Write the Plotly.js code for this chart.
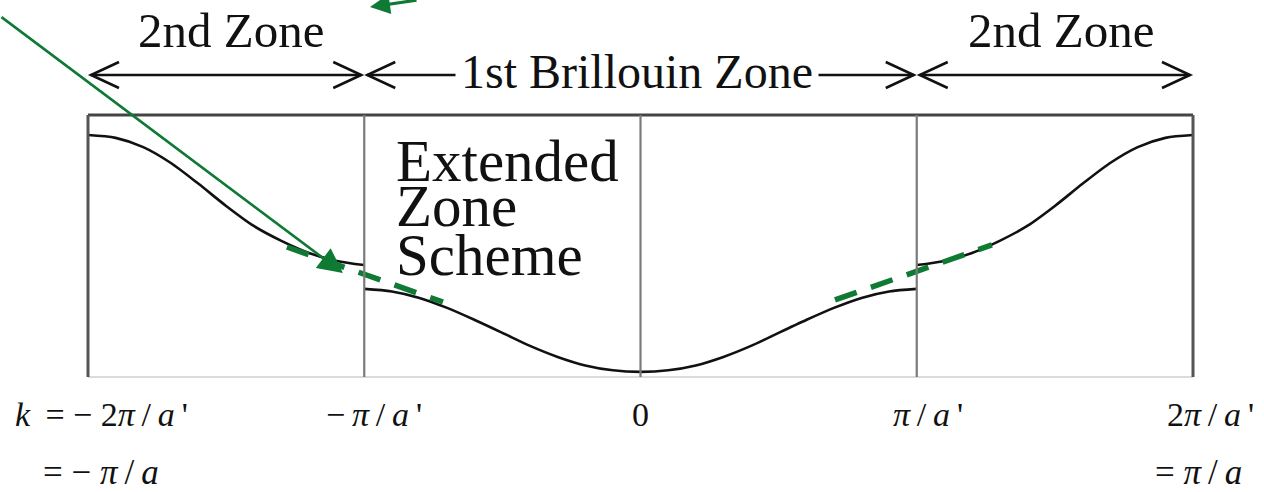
<!DOCTYPE html>
<html>
<head>
<meta charset="utf-8">
<script src="https://cdn.plot.ly/plotly-3.0.1.min.js"></script>
<style>html,body{margin:0;padding:0;background:#fff;}</style>
</head>
<body>
<div id="chart" style="width:1264px;height:492px"></div>
<script>
// Wavevector k in units of pi/a'; energy in arbitrary units (0 = band bottom, 1 = frame top)
const kLowerBand = [-1.0, -0.9, -0.8, -0.7, -0.6, -0.5, -0.4, -0.3, -0.2, -0.1, 0.0,
                    0.1, 0.2, 0.3, 0.4, 0.5, 0.6, 0.7, 0.8, 0.9, 1.0];
const eLowerBand = [0.323, 0.313, 0.288, 0.249, 0.202, 0.152, 0.101, 0.058, 0.025, 0.006, 0.0,
                    0.006, 0.025, 0.058, 0.101, 0.152, 0.202, 0.249, 0.288, 0.313, 0.323];

const kUpperLeft  = [-2.0, -1.9, -1.8, -1.7, -1.6, -1.5, -1.4, -1.3, -1.2, -1.1, -1.0];
const eUpperLeft  = [0.922, 0.911, 0.875, 0.813, 0.732, 0.646, 0.568, 0.510, 0.463, 0.432, 0.416];
const kUpperRight = [1.0, 1.1, 1.2, 1.3, 1.4, 1.5, 1.6, 1.7, 1.8, 1.9, 2.0];
const eUpperRight = [0.416, 0.432, 0.463, 0.510, 0.568, 0.646, 0.732, 0.813, 0.875, 0.911, 0.922];

// Straight free-electron-like continuation across the gap
const kDashLeft  = [-1.28, -0.715];
const eDashLeft  = [0.486, 0.272];
const kDashRight = [0.704, 1.272];
const eDashRight = [0.280, 0.494];

// Zone boundaries and labels
const zoneEdges = [-2, -1, 1, 2];
const dividerK = [-1, 0, 1];
const zoneNames = ['2nd Zone', '1st Brillouin Zone', '2nd Zone'];
const extendedLines = ['Extended', 'Zone', 'Scheme'];

const kRange = [-2, 2];
const eRange = [-0.02, 1];

// plot box geometry (pixels)
const W = 1264, H = 492;
const M = {l: 88, r: 71, t: 115, b: 115};
const plotW = W - M.l - M.r, plotH = H - M.t - M.b;
const px = x => (x - M.l) / plotW;          // pixel column -> paper x
const py = y => (H - M.b - y) / plotH;      // pixel row -> paper y
const kToPaper = k => (k - kRange[0]) / (kRange[1] - kRange[0]);

const BLACK = '#111111';
const GREEN = '#0e7a34';
const SERIF = 'Liberation Serif, Times New Roman, serif';

const bandLine = {color: BLACK, width: 2.6, shape: 'spline', smoothing: 0.8};
const dashLine = {color: GREEN, width: 5.5, dash: '23px,15px'};
const traces = [
  {x: kUpperLeft, y: eUpperLeft, mode: 'lines', line: bandLine, hoverinfo: 'skip'},
  {x: kLowerBand, y: eLowerBand, mode: 'lines', line: bandLine, hoverinfo: 'skip'},
  {x: kUpperRight, y: eUpperRight, mode: 'lines', line: bandLine, hoverinfo: 'skip'},
  {x: kDashLeft, y: eDashLeft, mode: 'lines', line: dashLine, hoverinfo: 'skip'},
  {x: kDashRight, y: eDashRight, mode: 'lines', line: dashLine, hoverinfo: 'skip'}
];

// frame and zone dividers
const shapes = [
  {type: 'line', xref: 'paper', yref: 'paper', x0: 0, x1: 1, y0: 1, y1: 1, line: {color: '#444', width: 3}},
  {type: 'line', xref: 'paper', yref: 'paper', x0: 0, x1: 1, y0: 0, y1: 0, line: {color: '#cfcfcf', width: 1.5}},
  {type: 'line', xref: 'paper', yref: 'paper', x0: 0, x1: 0, y0: 0, y1: 1, line: {color: '#555', width: 3}},
  {type: 'line', xref: 'paper', yref: 'paper', x0: 1, x1: 1, y0: 0, y1: 1, line: {color: '#555', width: 3}}
];
dividerK.forEach(k => shapes.push({
  type: 'line', xref: 'x', yref: 'paper', x0: k, x1: k, y0: 0, y1: 1,
  line: {color: '#7a7a7a', width: 2.2}
}));

// double-headed zone arrows above the frame
const arrowRow = py(75);
const tipGap = 3 / plotW;
for (let i = 0; i < zoneEdges.length - 1; i++) {
  const a = kToPaper(zoneEdges[i]) + tipGap;
  const b = kToPaper(zoneEdges[i + 1]) - tipGap;
  shapes.push({type: 'line', xref: 'paper', yref: 'paper', x0: a, x1: b, y0: arrowRow, y1: arrowRow,
               line: {color: BLACK, width: 2.6}});
  shapes.push({type: 'path', xref: 'paper', yref: 'paper', xsizemode: 'pixel', ysizemode: 'pixel',
               xanchor: a, yanchor: arrowRow, path: 'M 28,13 L 0,0 L 28,-13',
               fillcolor: 'rgba(0,0,0,0)', line: {color: BLACK, width: 2.6}});
  shapes.push({type: 'path', xref: 'paper', yref: 'paper', xsizemode: 'pixel', ysizemode: 'pixel',
               xanchor: b, yanchor: arrowRow, path: 'M -28,13 L 0,0 L -28,-13',
               fillcolor: 'rgba(0,0,0,0)', line: {color: BLACK, width: 2.6}});
}

const txt = (text, x, y, size, xanchor, extra) => Object.assign({
  text: text, x: x, y: y, xref: 'paper', yref: 'paper', showarrow: false,
  xanchor: xanchor || 'center', yanchor: 'middle',
  font: {family: SERIF, size: size, color: BLACK}
}, extra || {});

const S = ' ', T = '\u2009', MINUS = '\u2212', PI = '<i>\u03c0</i>', A = '<i>a</i>';
const tight = {borderpad: 0};

const annotations = [
  txt(zoneNames[0], px(231), py(31), 49),
  txt(zoneNames[1], px(637), py(72), 48, 'center', {bgcolor: '#ffffff', borderpad: 5}),
  txt(zoneNames[2], px(1061), py(31), 49),
  txt(extendedLines[0], px(395), py(161), 59, 'left', tight),
  txt(extendedLines[1], px(395), py(206), 59, 'left', tight),
  txt(extendedLines[2], px(395), py(255), 59, 'left', tight),
  // k-axis labels
  txt('<i>k</i>' + S + T + '=' + S + MINUS + S + '2' + PI + T + '/' + T + A + T + "'", px(14), py(414), 34, 'left', tight),
  txt(MINUS + T + PI + T + '/' + T + A + T + "'", px(325), py(414), 34, 'left', tight),
  txt('0', kToPaper(0), py(414), 34, 'center', tight),
  txt(PI + T + '/' + T + A + T + "'", px(892), py(414), 34, 'left', tight),
  txt('2' + PI + T + '/' + T + A + T + "'", px(1166), py(414), 34, 'left', tight),
  txt('=' + S + MINUS + S + PI + T + '/' + T + A, px(42), py(472), 35, 'left', tight),
  txt('=' + S + PI + T + '/' + T + A, px(1154), py(472), 35, 'left', tight),
  // green pointers
  {text: '', x: -1.077, y: 0.385, xref: 'x', yref: 'y', showarrow: true,
   ax: -343, ay: -257, arrowcolor: GREEN, arrowwidth: 2.6, arrowhead: 2, arrowsize: 1.9, standoff: 0},
  {text: '', x: px(370), y: py(7), xref: 'paper', yref: 'paper', showarrow: true,
   ax: 48, ay: -11, arrowcolor: GREEN, arrowwidth: 3.2, arrowhead: 2, arrowsize: 1.25, standoff: 0}
];

const layout = {
  width: W, height: H,
  margin: M,
  paper_bgcolor: '#ffffff', plot_bgcolor: '#ffffff',
  showlegend: false,
  xaxis: {range: kRange, visible: false, fixedrange: true},
  yaxis: {range: eRange, visible: false, fixedrange: true},
  shapes: shapes,
  annotations: annotations
};

Plotly.newPlot('chart', traces, layout, {displayModeBar: false, staticPlot: true});
</script>
</body>
</html>
